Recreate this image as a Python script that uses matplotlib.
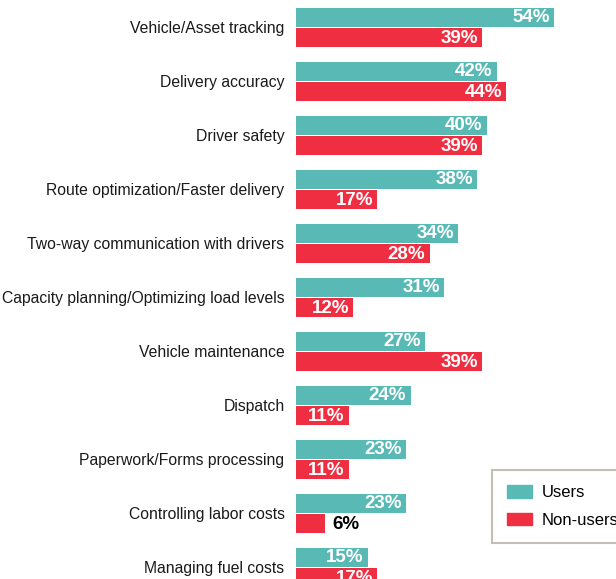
import matplotlib
matplotlib.use("Agg")
import matplotlib.pyplot as plt
import numpy as np
from matplotlib.patches import Patch

categories = ["Vehicle/Asset tracking", "Delivery accuracy", "Driver safety",
              "Route optimization/Faster delivery", "Two-way communication with drivers",
              "Capacity planning/Optimizing load levels", "Vehicle maintenance", "Dispatch",
              "Paperwork/Forms processing", "Controlling labor costs", "Managing fuel costs"]
users = [54, 42, 40, 38, 34, 31, 27, 24, 23, 23, 15]
non_users = [39, 44, 39, 17, 28, 12, 39, 11, 11, 6, 17]

teal = "#59bab5"
red = "#f02e42"

plt.rcParams['font.family'] = ['Liberation Sans', 'DejaVu Sans']

fig = plt.figure(figsize=(6.16, 5.79), dpi=100)
ax = fig.add_axes([296/616, 0, 1 - 296/616, 1])

y = np.arange(len(categories))
h = 0.36
off = 0.19
ax.barh(y - off, users, height=h, color=teal, label="Users")
ax.barh(y + off, non_users, height=h, color=red, label="Non-users")

ax.set_xlim(0, 67)
ax.set_ylim(10.213, -0.509)
ax.axis('off')

for i, (u, n) in enumerate(zip(users, non_users)):
    ax.text(u - 0.9, i - off + 0.01, f"{u}%", ha='right', va='center', color='white',
            fontsize=13.5, fontweight='bold')
    if n >= 10:
        ax.text(n - 0.9, i + off + 0.01, f"{n}%", ha='right', va='center', color='white',
                fontsize=13.5, fontweight='bold')
    else:
        ax.text(n + 1.6, i + off + 0.01, f"{n}%", ha='left', va='center', color='black',
                fontsize=13.5, fontweight='bold')
    ax.text(-2.4, i + 0.015, categories[i], ha='right', va='center', color='#1a1a1a',
            fontsize=11.3, clip_on=False)

handles = [Patch(color=teal, label="Users"), Patch(color=red, label="Non-users")]
leg = fig.legend(handles=handles, loc='upper left', bbox_to_anchor=(492/616, 1 - 470/579),
                 fontsize=12, frameon=True, fancybox=False, handlelength=1.5,
                 handleheight=0.78, borderpad=0.9, labelspacing=0.75, handletextpad=0.6,
                 borderaxespad=0)
leg.get_frame().set_edgecolor('#b5b0a5')
leg.get_frame().set_linewidth(1.5)

fig.savefig("out.png", dpi=100)
